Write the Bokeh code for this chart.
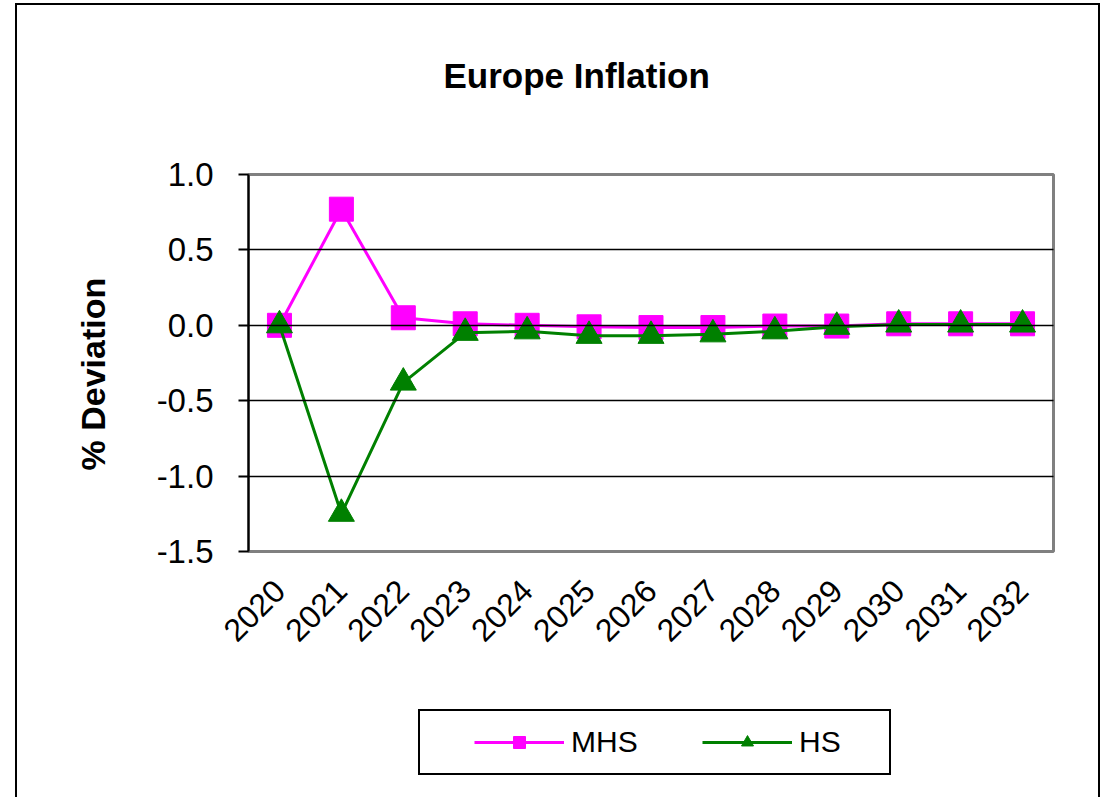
import math
from bokeh.plotting import figure
from bokeh.models import (Range1d, Legend, LegendItem, BoxAnnotation, LinearAxis,
                          FixedTicker, NumeralTickFormatter, Title)
from bokeh.embed import file_html
from bokeh.resources import INLINE

years = ["2020", "2021", "2022", "2023", "2024", "2025", "2026",
         "2027", "2028", "2029", "2030", "2031", "2032"]
mhs = [0.0, 0.77, 0.05, 0.01, 0.0, -0.01, -0.015, -0.015, -0.005, -0.005, 0.01, 0.01, 0.01]
hs = [0.0, -1.25, -0.38, -0.05, -0.04, -0.07, -0.07, -0.06, -0.04, -0.01, 0.005, 0.005, 0.005]
y_ticks = [-1.5, -1.0, -0.5, 0.0, 0.5, 1.0]
grid_ticks = [-1.0, -0.5, 0.0, 0.5]
y_min, y_max = -1.5, 1.0

# category positions: centre of each year's band
xs = [i + 0.5 for i in range(len(years))]
x_min, x_max = 0, len(years)

FONT = "Liberation Sans"

# layout (pixels): plot area 248..1053 x 174..551, legend area below it
W, H = 1100, 797
FRAME_LEFT, FRAME_RIGHT, FRAME_TOP = 130, 1062, 150
PLOT_LEFT, PLOT_RIGHT = 248, 1053
PLOT_TOP, PLOT_BOTTOM = 174, 551
py = (PLOT_BOTTOM - PLOT_TOP) / (y_max - y_min)
px = (PLOT_RIGHT - PLOT_LEFT) / (x_max - x_min)
y_start = y_min - (H - PLOT_BOTTOM) / py
y_end = y_max + (PLOT_TOP - FRAME_TOP) / py
x_start = x_min - (PLOT_LEFT - FRAME_LEFT) / px
x_end = x_max + (FRAME_RIGHT - PLOT_RIGHT) / px

p = figure(x_range=Range1d(x_start, x_end), y_range=Range1d(y_start, y_end),
           width=W, height=H, output_backend="svg", toolbar_location=None,
           min_border_left=FRAME_LEFT, min_border_right=W - FRAME_RIGHT,
           min_border_top=FRAME_TOP, min_border_bottom=0)

# outer chart border (left, top, right; runs off the bottom like the reference)
p.border_fill_color = None
p.styles = {
    "background-color": "white",
    "box-shadow": ("inset 15px 0 0 0 white, inset 0 3px 0 0 white, "
                   "inset 17px 0 0 0 black, inset 0 5px 0 0 black, "
                   "inset -2px 0 0 0 black"),
}

p.title.text = "Europe Inflation"
p.title.text_font = FONT
p.title.text_font_size = "35px"
p.title.text_font_style = "bold"
p.title.text_color = "black"
p.title.align = "left"
p.title.vertical_align = "top"
p.title.offset = 443 - FRAME_LEFT
p.title.standoff = 108

ylabel = Title(text="% Deviation", align="left", offset=327, standoff=38,
               text_font=FONT, text_font_size="34px", text_font_style="bold",
               text_color="black")
p.add_layout(ylabel, "left")

p.outline_line_color = None
p.background_fill_color = "white"
p.xgrid.visible = False
p.ygrid.visible = False

# plot-area border (gray), below the axes
plot_box = BoxAnnotation(left=x_min, right=x_max, top=y_max, bottom=y_min,
                         fill_alpha=0, line_color="#808080", line_alpha=1,
                         line_width=3, level="underlay")
p.add_layout(plot_box)

yax = p.yaxis[0]
yax.fixed_location = x_min
yax.ticker = FixedTicker(ticks=y_ticks)
yax.bounds = (y_min, y_max)
yax.formatter = NumeralTickFormatter(format="0.0")
yax.axis_line_color = "black"
yax.axis_line_width = 2
yax.major_tick_line_color = "black"
yax.major_tick_line_width = 2
yax.major_tick_out = 10
yax.major_tick_in = 0
yax.minor_tick_line_color = None
yax.major_label_text_font = FONT
yax.major_label_text_font_size = "33px"
yax.major_label_text_color = "black"
yax.major_label_standoff = 25

# horizontal gridlines across the plot area only
gridax = LinearAxis(fixed_location=x_min, ticker=FixedTicker(ticks=grid_ticks),
                    axis_line_color=None, major_tick_line_color="black",
                    major_tick_line_width=1.5, major_tick_in=PLOT_RIGHT - PLOT_LEFT,
                    major_tick_out=0, minor_tick_line_color=None,
                    major_label_text_alpha=0, major_label_text_font_size="1px")
p.add_layout(gridax, "left")

xax = p.xaxis[0]
xax.fixed_location = y_min
xax.ticker = FixedTicker(ticks=xs)
xax.major_label_overrides = {x: y for x, y in zip(xs, years)}
xax.axis_line_color = None
xax.major_tick_line_color = None
xax.minor_tick_line_color = None
xax.major_label_orientation = math.pi / 4
xax.major_label_text_font = FONT
xax.major_label_text_font_size = "32px"
xax.major_label_text_color = "black"
xax.major_label_standoff = 28

l1 = p.line(xs, mhs, line_color="#FF00FF", line_width=3)
s1 = p.scatter(xs, mhs, marker="square", size=24, fill_color="#FF00FF", line_color="#FF00FF")
l2 = p.line(xs, hs, line_color="#008000", line_width=3)
s2 = p.scatter(xs, hs, marker="triangle", size=26, fill_color="#008000", line_color="#008000")

legend = Legend(items=[LegendItem(label="MHS", renderers=[l1, s1]),
                       LegendItem(label="HS", renderers=[l2, s2])],
                orientation="horizontal", location=(418 - FRAME_LEFT, 22),
                title=" ", title_location="left", title_standoff=6,
                title_text_font_size="30px",
                padding=14, margin=0, spacing=55, label_standoff=7,
                glyph_width=90, glyph_height=30, label_width=76,
                label_text_font=FONT, label_text_font_size="30px",
                label_text_color="black",
                border_line_color="black", border_line_width=2, border_line_alpha=1,
                background_fill_color="white", background_fill_alpha=1)
p.add_layout(legend)

open("out.html", "w").write(file_html(p, INLINE))
